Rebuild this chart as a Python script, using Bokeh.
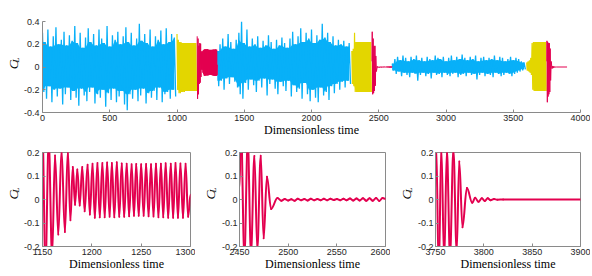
import math
from bokeh.plotting import figure
from bokeh.layouts import column, row
from bokeh.models import FixedTicker, Range1d, ColumnDataSource
from bokeh.core.properties import value
from bokeh.embed import file_html
from bokeh.resources import INLINE

BLUE = "#08B0F8"
YELLOW = "#E3D600"
RED = "#E3004F"

# ---------------- data ----------------
# noisy (blue) segments: upper / lower extreme readings, sample step 20, lows offset by half a step
blue_step = 20
blue1_start = 0
blue1_hi = [0.30, 0.22, 0.33, 0.18, 0.27, 0.35, 0.20, 0.24, 0.31, 0.19,
            0.28, 0.23, 0.36, 0.21, 0.30, 0.17, 0.26, 0.34, 0.22, 0.29,
            0.19, 0.33, 0.25, 0.21, 0.36, 0.18, 0.28, 0.24, 0.31, 0.20,
            0.27, 0.35, 0.22, 0.30, 0.19, 0.25, 0.38, 0.23, 0.29, 0.21,
            0.33, 0.18, 0.27, 0.24, 0.32, 0.20, 0.34, 0.22, 0.29, 0.26]
blue1_lo = [-0.22, -0.28, -0.17, -0.31, -0.20, -0.26, -0.19, -0.33, -0.24, -0.18,
            -0.29, -0.21, -0.27, -0.34, -0.19, -0.25, -0.30, -0.22, -0.18, -0.32,
            -0.24, -0.27, -0.20, -0.35, -0.23, -0.29, -0.19, -0.31, -0.26, -0.21,
            -0.33, -0.38, -0.24, -0.28, -0.20, -0.30, -0.25, -0.19, -0.32, -0.23,
            -0.27, -0.21, -0.29, -0.18, -0.31, -0.24, -0.22, -0.28, -0.20, -0.26]

blue2_start = 1300
blue2_hi = [0.14, 0.20, 0.25, 0.18, 0.29, 0.22, 0.16, 0.24, 0.30, 0.40,
            0.21, 0.33, 0.18, 0.25, 0.20, 0.27, 0.17, 0.23, 0.19, 0.28,
            0.22, 0.16, 0.24, 0.19, 0.26, 0.21, 0.17, 0.25, 0.31, 0.20,
            0.27, 0.34, 0.22, 0.30, 0.25, 0.33, 0.21, 0.28, 0.24, 0.38,
            0.26, 0.30, 0.22, 0.27, 0.19, 0.24, 0.20, 0.23, 0.18, 0.21]
blue2_lo = [-0.17, -0.12, -0.20, -0.10, -0.15, -0.09, -0.13, -0.18, -0.24, -0.28,
            -0.14, -0.20, -0.11, -0.16, -0.22, -0.12, -0.18, -0.10, -0.25, -0.15,
            -0.11, -0.19, -0.24, -0.13, -0.17, -0.21, -0.12, -0.26, -0.16, -0.22,
            -0.19, -0.28, -0.14, -0.24, -0.30, -0.20, -0.27, -0.31, -0.18, -0.25,
            -0.22, -0.29, -0.17, -0.23, -0.15, -0.20, -0.13, -0.18, -0.12, -0.15]

blue3_start = 2600
blue3_hi = [0.03, 0.07, 0.09, 0.06, 0.10, 0.08, 0.05, 0.09, 0.07, 0.10,
            0.06, 0.08, 0.05, 0.09, 0.07, 0.06, 0.10, 0.08, 0.07, 0.09,
            0.05, 0.08, 0.10, 0.06, 0.09, 0.07, 0.11, 0.08, 0.06, 0.09,
            0.07, 0.10, 0.05, 0.08, 0.09, 0.06, 0.08, 0.07, 0.10, 0.06,
            0.09, 0.08, 0.05, 0.07, 0.09, 0.06, 0.08, 0.07, 0.05, 0.04]
blue3_lo = [-0.03, -0.06, -0.04, -0.08, -0.05, -0.07, -0.09, -0.05, -0.06, -0.12,
            -0.07, -0.05, -0.08, -0.06, -0.10, -0.05, -0.07, -0.06, -0.09, -0.05,
            -0.07, -0.08, -0.06, -0.05, -0.09, -0.07, -0.06, -0.08, -0.05, -0.07,
            -0.06, -0.11, -0.07, -0.05, -0.08, -0.06, -0.07, -0.09, -0.05, -0.06,
            -0.08, -0.07, -0.05, -0.06, -0.08, -0.06, -0.05, -0.04, -0.03, -0.02]

# yellow segments: upper / lower extreme readings, sample step 10
yel_step = 10
yel1_start = 1000
yel1_hi = [0.29, 0.24, 0.22, 0.22, 0.21, 0.21, 0.21, 0.21, 0.21, 0.21, 0.21, 0.21, 0.21, 0.21, 0.21]
yel1_lo = [-0.20, -0.23, -0.23, -0.22, -0.22, -0.22, -0.21, -0.21, -0.21, -0.21, -0.21, -0.21, -0.21, -0.21, -0.21]
yel2_start = 2300
yel2_hi = [0.14, 0.16, 0.30, 0.22, 0.22, 0.22, 0.22, 0.22, 0.22, 0.22, 0.22, 0.22, 0.22, 0.22, 0.22]
yel2_lo = [-0.15, -0.17, -0.22, -0.22, -0.22, -0.22, -0.22, -0.22, -0.22, -0.22, -0.22, -0.22, -0.22, -0.22, -0.22]
yel3_start = 3600
yel3_hi = [0.04, 0.05, 0.06, 0.08, 0.21, 0.22, 0.22, 0.22, 0.22, 0.22, 0.22, 0.22, 0.22, 0.22, 0.22]
yel3_lo = [-0.03, -0.04, -0.05, -0.07, -0.20, -0.21, -0.21, -0.21, -0.21, -0.21, -0.21, -0.21, -0.21, -0.21, -0.21]

# red segments: successive extrema (time, C_L)
red1_t = [1150.0, 1153.0, 1156.3, 1159.7, 1162.7, 1166.0, 1169.3, 1172.7, 1175.7, 1178.3,
          1180.7, 1183.0, 1185.3, 1187.7, 1190.3, 1192.7, 1195.7, 1198.0, 1200.7, 1203.0,
          1205.7, 1208.0, 1210.7, 1213.0, 1215.5, 1218.0, 1220.3, 1222.8, 1225.3, 1227.8,
          1230.3, 1232.8, 1235.3, 1237.8, 1240.3, 1242.7, 1245.0, 1247.5, 1250.0, 1252.5,
          1255.0, 1257.5, 1260.0, 1262.5, 1265.0, 1267.5, 1270.0, 1272.4, 1274.8, 1277.4,
          1280.0, 1282.4, 1284.8, 1287.3, 1289.8, 1292.4, 1295.0, 1297.6, 1300.0]
red1_v = [0.27, -0.28, 0.25, -0.24, 0.187, -0.149, 0.21, -0.138, 0.205, -0.088,
          0.138, -0.022, 0.128, -0.025, 0.138, -0.050, 0.148, -0.064, 0.152, -0.078,
          0.155, -0.076, 0.155, -0.075, 0.157, -0.073, 0.155, -0.075, 0.158, -0.073,
          0.153, -0.073, 0.152, -0.071, 0.150, -0.069, 0.151, -0.069, 0.150, -0.069,
          0.151, -0.071, 0.150, -0.072, 0.152, -0.075, 0.152, -0.075, 0.154, -0.078,
          0.152, -0.078, 0.155, -0.078, 0.153, -0.078, 0.152, -0.073, 0.02]

red2_t = [2450.0, 2451.5, 2455.0, 2458.5, 2461.8, 2465.3, 2468.3, 2471.8, 2474.8, 2478.2,
          2482.5, 2489.0, 2493.0, 2496.5, 2500.0, 2503.2, 2506.6, 2509.9, 2513.3, 2516.6,
          2520.0, 2523.3, 2526.7, 2530.0, 2533.4, 2536.7, 2540.0, 2543.4, 2546.8, 2550.1,
          2553.4, 2556.8, 2560.0, 2563.5, 2566.8, 2570.2, 2573.5, 2576.9, 2580.2, 2583.6,
          2586.9, 2590.3, 2593.6, 2597.0, 2600.0]
red2_v = [0.05, 0.31, -0.24, 0.25, -0.23, 0.185, -0.21, 0.186, -0.165, 0.097,
          -0.040, 0.006, -0.005, 0.002, -0.004, 0.001, -0.005, 0.003, -0.003, 0.002,
          -0.004, 0.003, -0.003, 0.002, -0.003, 0.003, -0.003, 0.003, -0.002, 0.002,
          -0.003, 0.003, -0.003, 0.004, -0.004, 0.004, -0.004, 0.005, -0.005, 0.005,
          -0.005, 0.006, -0.006, 0.006, 0.003]

red3_t = [3750.0, 3750.7, 3753.4, 3756.0, 3759.0, 3761.8, 3765.0, 3768.5, 3771.9, 3774.6,
          3777.9, 3782.5, 3788.0, 3791.0, 3794.5, 3798.0, 3801.0, 3804.0, 3807.0, 3810.5,
          3814.0, 3820.0, 3900.0]
red3_v = [0.05, 0.23, -0.31, 0.22, -0.26, 0.21, -0.24, 0.21, -0.22, 0.162,
          -0.118, 0.049, -0.014, 0.007, -0.010, 0.005, -0.006, 0.005, -0.003, 0.002,
          -0.001, 0.0, 0.0]

top_xticks = [0, 500, 1000, 1500, 2000, 2500, 3000, 3500, 4000]
top_yticks = [-0.4, -0.2, 0, 0.2, 0.4]
top_ylabels = ["-0.4", "-0.2", "0", "0.2", "0.4"]
zoom_windows = [(1150, 1300), (2450, 2600), (3750, 3900)]
zoom_xticks = [[1150, 1200, 1250, 1300], [2450, 2500, 2550, 2600], [3750, 3800, 3850, 3900]]
zoom_yticks = [-0.2, -0.1, 0, 0.1, 0.2]
zoom_ylabels = ["-0.2", "-0.1", "0", "0.1", "0.2"]
xlabel = "Dimensionless time"


def zigzag(start, step, hi, lo):
    t, v = [], []
    for i, (h, l) in enumerate(zip(hi, lo)):
        t += [start + i * step, start + i * step + step / 2]
        v += [h, l]
    return t, v


def core_band(start, step, hi, lo):
    """Dense core of a noisy segment: the band that every neighbouring oscillation covers."""
    n = len(hi)
    t = [start + i * step for i in range(n)]
    up = [min(hi[max(i - 1, 0):i + 2]) for i in range(n)]
    dn = [max(lo[max(i - 1, 0):i + 2]) for i in range(n)]
    return t, dn, up


def half_waves(t, v):
    """Bezier pieces joining successive extrema with flat tangents (smooth oscillation)."""
    k = (math.pi - 2) / math.pi  # cubic approximation of a cosine half-wave
    d = dict(x0=[], y0=[], x1=[], y1=[], cx0=[], cy0=[], cx1=[], cy1=[])
    for i in range(len(t) - 1):
        dt = t[i + 1] - t[i]
        d["x0"].append(t[i]); d["y0"].append(v[i])
        d["x1"].append(t[i + 1]); d["y1"].append(v[i + 1])
        d["cx0"].append(t[i] + k * dt); d["cy0"].append(v[i])
        d["cx1"].append(t[i + 1] - k * dt); d["cy1"].append(v[i + 1])
    return ColumnDataSource(d)


AX = "#8a8a8a"
TXT = "#262626"


def style_axis(ax, standoff=3):
    ax.axis_line_color = AX
    ax.major_tick_line_color = AX
    ax.minor_tick_line_color = None
    ax.major_tick_in = 3
    ax.major_tick_out = 0
    ax.major_label_text_font = "Liberation Sans"
    ax.major_label_text_color = TXT
    ax.major_label_text_font_size = "9px"
    ax.major_label_standoff = standoff


def style_xlabel(ax):
    ax.axis_label = xlabel
    ax.axis_label_text_font = "Liberation Serif"
    ax.axis_label_text_font_style = "normal"
    ax.axis_label_text_font_size = "12px"
    ax.axis_label_text_color = "black"
    ax.axis_label_standoff = -1
    ax.major_label_standoff = 2


def cl_figure(width, height, cx, cy):
    """Narrow strip that holds the rotated C_L label (pixel-like coordinates)."""
    f = figure(width=width, height=height, x_range=Range1d(0, width), y_range=Range1d(height, 0),
               x_axis_location=None, y_axis_location=None,
               output_backend="svg", toolbar_location=None,
               min_border_left=0, min_border_right=0, min_border_top=0, min_border_bottom=0)
    f.outline_line_color = None
    f.grid.visible = False
    f.text(x=[cx], y=[cy], text=["C"], angle=math.pi / 2, text_align="center",
           text_baseline="middle", text_font=value("Liberation Serif"),
           text_font_style="italic", text_font_size="13.5px", text_color="black")
    f.text(x=[cx + 2.5], y=[cy - 7.5], text=["L"], angle=math.pi / 2, text_align="center",
           text_baseline="middle", text_font=value("Liberation Serif"),
           text_font_style="italic", text_font_size="9px", text_color="black")
    return f


# ---------------- top overview ----------------
top = figure(width=570, height=140, x_range=Range1d(0, 4000), y_range=Range1d(-0.4, 0.4),
             output_backend="svg", toolbar_location=None,
             min_border_left=20, min_border_right=10, min_border_top=21, min_border_bottom=28)
top.outline_line_color = None
top.grid.visible = False
top.xaxis.ticker = FixedTicker(ticks=top_xticks)
top.yaxis.ticker = FixedTicker(ticks=top_yticks)
top.yaxis.major_label_overrides = dict(zip(top_yticks, top_ylabels))
style_axis(top.xaxis[0])
style_axis(top.yaxis[0])
style_xlabel(top.xaxis[0])

for (s, hi, lo) in [(blue1_start, blue1_hi, blue1_lo), (blue2_start, blue2_hi, blue2_lo),
                    (blue3_start, blue3_hi, blue3_lo)]:
    ct, cdn, cup = core_band(s, blue_step, hi, lo)
    top.varea(x=ct, y1=cdn, y2=cup, fill_color=BLUE)
    t, v = zigzag(s, blue_step, hi, lo)
    top.line(t, v, line_color=BLUE, line_width=1.3, line_join="bevel")
for (s, hi, lo) in [(yel1_start, yel1_hi, yel1_lo), (yel2_start, yel2_hi, yel2_lo),
                    (yel3_start, yel3_hi, yel3_lo)]:
    ct, cdn, cup = core_band(s, yel_step, hi, lo)
    top.varea(x=ct, y1=cdn, y2=cup, fill_color=YELLOW)
    t, v = zigzag(s, yel_step, hi, lo)
    top.line(t, v, line_color=YELLOW, line_width=1.2, line_join="bevel")
for (t, v) in [(red1_t, red1_v), (red2_t, red2_v), (red3_t, red3_v)]:
    top.line(t, v, line_color=RED, line_width=1, line_join="bevel")

top_row = row(cl_figure(20, 140, 12.5, 66.7), top)

# ---------------- zoomed panels ----------------
reds = [(red1_t, red1_v), (red2_t, red2_v), (red3_t, red3_v)]
strip_w = [20, 23, 24]
strip_cx = [12.8, 15.0, 16.0]
lefts = [20, 18, 18]
ystand = [3, 2, 2]
frame_w = [150, 149, 148]
rights = [5, 5, 10]
children = []
for k in range(3):
    x0, x1 = zoom_windows[k]
    p = figure(width=lefts[k] + frame_w[k] + rights[k], height=135,
               x_range=Range1d(x0, x1), y_range=Range1d(-0.2, 0.2),
               output_backend="svg", toolbar_location=None,
               min_border_left=lefts[k], min_border_right=rights[k],
               min_border_top=12, min_border_bottom=29)
    p.grid.visible = False
    p.outline_line_color = AX
    p.xaxis.ticker = FixedTicker(ticks=zoom_xticks[k])
    p.yaxis.ticker = FixedTicker(ticks=zoom_yticks)
    p.yaxis.major_label_overrides = dict(zip(zoom_yticks, zoom_ylabels))
    style_axis(p.xaxis[0])
    style_axis(p.yaxis[0], ystand[k])
    style_xlabel(p.xaxis[0])
    t, v = reds[k]
    p.bezier(x0="x0", y0="y0", x1="x1", y1="y1", cx0="cx0", cy0="cy0", cx1="cx1", cy1="cy1",
             source=half_waves(t, v), line_color=RED, line_width=2, line_cap="round")
    children.append(cl_figure(strip_w[k], 135, strip_cx[k], 61.2))
    children.append(p)

layout = column(top_row, row(*children))
open("out.html", "w").write(file_html(layout, INLINE))
